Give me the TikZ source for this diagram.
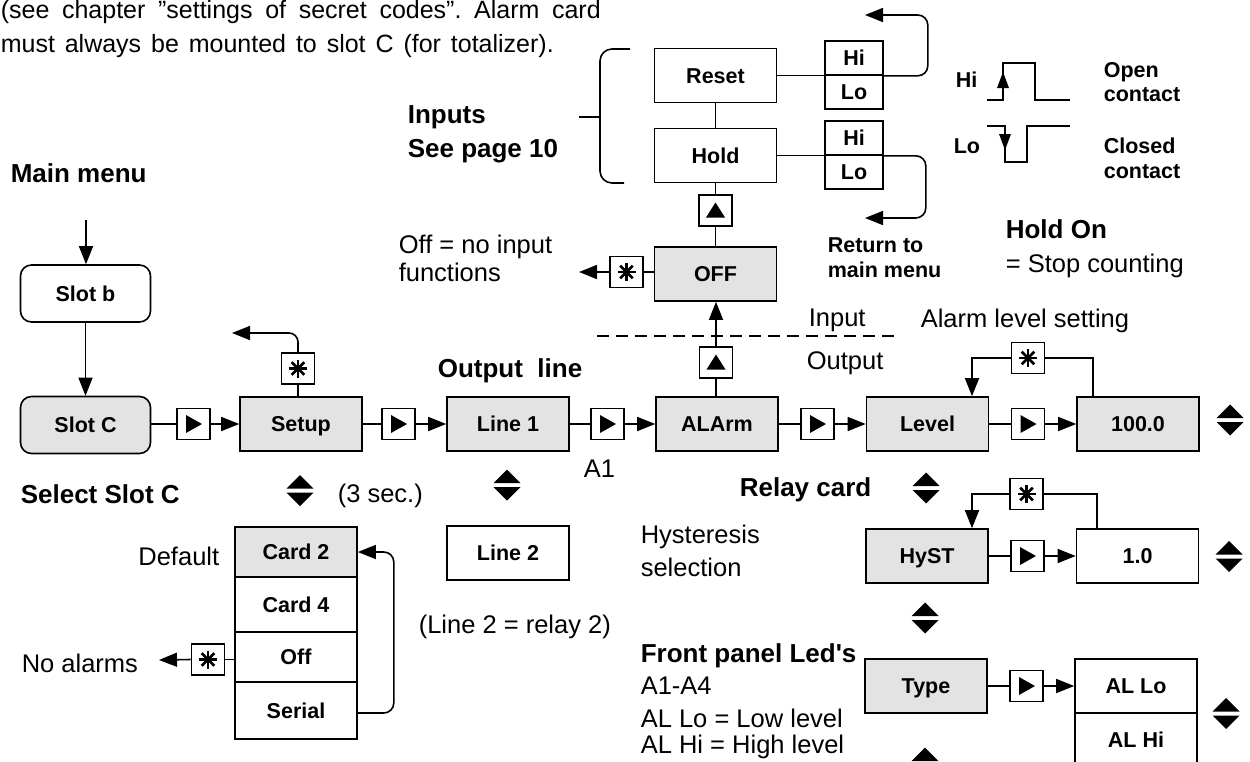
\documentclass[tikz,border=0pt]{standalone}
\usepackage{fontspec}
\setmainfont{Liberation Sans}
\usetikzlibrary{arrows.meta,calc}
\definecolor{boxgray}{RGB}{227,227,227}
\newcommand{\ntxt}{\fontsize{25.5}{30}\selectfont}
\newcommand{\htxt}{\bfseries\fontsize{26}{30}\selectfont}
\newcommand{\btxt}{\bfseries\fontsize{21.5}{25}\selectfont}
\tikzset{
  box/.style={draw, minimum width=122pt, minimum height=54pt, inner sep=0pt, font=\btxt, text height=15.4pt, text depth=0pt},
  gbox/.style={box, fill=boxgray},
  rbox/.style={box, rounded corners=11pt, minimum width=130pt, minimum height=57pt},
  hl/.style={draw, minimum width=58pt, minimum height=34pt, inner sep=0pt, font=\btxt, text height=15.4pt, text depth=0pt},
  keyb/.style={draw, fill=white, minimum width=33pt, minimum height=31pt, inner sep=0pt},
  playkey/.style={keyb, path picture={\fill[black] ($(path picture bounding box.center)+(-7.5pt,9pt)$) -- ++(0pt,-18pt) -- ++(16pt,9pt) -- cycle;}},
  upkey/.style={keyb, path picture={\fill[black] ($(path picture bounding box.center)+(-9.5pt,-7pt)$) -- ++(19pt,0pt) -- ++(-9.5pt,15pt) -- cycle;}},
  starkey/.style={keyb, path picture={\foreach \a in {0,45,90,135}{\draw[black, line width=2.6pt] ($(path picture bounding box.center)+(\a:9pt)$) -- ($(path picture bounding box.center)+(\a+180:9pt)$);}}},
  arr/.style={-{Triangle[length=18pt,width=14pt]}},
  lbl/.style={anchor=base west, inner sep=0pt, font=\ntxt},
  hlbl/.style={anchor=base west, inner sep=0pt, font=\htxt},
  slbl/.style={anchor=base west, inner sep=0pt, font=\btxt},
  updown/.pic={\fill (-13.5pt,2pt) -- (13.5pt,2pt) -- (0pt,15.5pt) -- cycle;
               \fill (-13.5pt,-2pt) -- (13.5pt,-2pt) -- (0pt,-15.5pt) -- cycle;}
}
\frenchspacing
\begin{document}
\begin{tikzpicture}[x=1pt, y=-1pt, line width=1.6pt]
\useasboundingbox (0,0) rectangle (1250,761);
\fill[white] (0,0) rectangle (1250,761);
\clip (0,0) rectangle (1250,761);

% top text
\node[lbl, font=\fontsize{25}{30}\selectfont] (t1) at (0,18) {\hbox to 600pt{(see chapter ”settings of secret codes”. Alarm card}};
\node[lbl, font=\fontsize{25}{30}\selectfont] (t2) at (0,52) {\hbox to 553pt{must always be mounted to slot C (for totalizer).}};

% main menu column
\node[hlbl] (mm) at (10,182) {Main menu};
\coordinate (mmtop) at (86,220);
\node[rbox] (slotb) at (85.5,293.5) {Slot b};
\node[rbox, fill=boxgray] (slotc) at (85.5,425) {Slot C};
\draw[arr] (mmtop) -- (mmtop |- slotb.north);
\draw[arr] (slotb) -- (slotc);

% main row
\node[playkey] (k0) at (193.5,424) {};
\node[gbox] (setup) at (301,424) {Setup};
\node[playkey] (k1) at (398.5,424) {};
\node[gbox] (line1) at (508,424) {Line 1};
\node[playkey] (k2) at (607.5,424) {};
\node[gbox] (alarm) at (717,424) {ALArm};
\node[playkey] (k3) at (817.5,424) {};
\node[gbox] (level) at (927.5,424) {Level};
\node[playkey] (k4) at (1028,424) {};
\node[gbox] (v100) at (1138,424) {100.0};
\draw (slotc.east |- k0) -- (k0.west);
\draw[arr] (k0.east) -- (setup.west);
\draw (setup.east) -- (k1.west);
\draw[arr] (k1.east) -- (line1.west);
\draw (line1.east) -- (k2.west);
\draw[arr] (k2.east) -- (alarm.west);
\draw (alarm.east) -- (k3.west);
\draw[arr] (k3.east) -- (level.west);
\draw (level.east) -- (k4.west);
\draw[arr] (k4.east) -- (v100.west);
\pic at (1230,420) {updown};

% setup escape
\node[starkey] (s1) at (298,368.5) {};
\coordinate (s1end) at (232,333);
\draw (s1.south) -- (s1.south |- setup.north);
\draw[arr, rounded corners=9pt] (s1.north) |- (s1end);

% alarm -> inputs
\node[upkey] (u1) at (716,362.5) {};
\node[gbox] (off) at (715.5,274) {OFF};
\draw (alarm.north -| u1) -- (u1.south);
\draw[arr] (u1.north) -- (u1.north |- off.south);
\node[starkey] (s2) at (626.5,272) {};
\coordinate (s2end) at (579,272);
\draw (off.west |- s2) -- (s2.east);
\draw[arr] (s2.west) -- (s2end);
\node[upkey] (u2) at (715.5,210.5) {};
\node[box] (hold) at (715.5,155.5) {Hold};
\node[box] (reset) at (715.5,75.5) {Reset};
\draw (off.north) -- (u2.south);
\draw (u2.north) -- (hold.south);
\draw (reset.south) -- (hold.north);

% Hi/Lo
\node[hl] (rhi) at (854,58) {Hi};
\node[hl] (rlo) at (854,92) {Lo};
\node[hl] (hhi) at (854,138) {Hi};
\node[hl] (hlo) at (854,172) {Lo};
\draw (reset.east) -- (reset.east -| rhi.west);
\draw (hold.east) -- (hold.east -| hhi.west);
\coordinate (rret) at (865,15);
\coordinate (hret) at (865,218);
\draw[arr, rounded corners=10pt] (rhi.south east) -- ++(44,0) |- (rret);
\draw[arr, rounded corners=10pt] (hhi.south east) -- ++(42,0) |- (hret);

% brace
\draw[rounded corners=12pt] (630,49) -- (600,49) -- (600,183) -- (624,183);
\draw (600,117) -- (579,117);

% dashed separator
\draw[dash pattern=on 12pt off 7pt, line width=1.2pt] (597,336) -- (895,336);

% signal diagrams
\draw (987,100) -- (1003,100) -- (1003,63) -- (1035,63) -- (1035,100) -- (1070,100);
\fill (997,88) -- (1009,88) -- (1003,72) -- cycle;
\draw (987,126) -- (1005,126) -- (1005,162) -- (1027,162) -- (1027,126) -- (1070,126);
\fill (999,134) -- (1011,134) -- (1005,150) -- cycle;

% level loop
\node[starkey] (s3) at (1028,358) {};
\draw ([xshift=-45pt]v100.north) |- (s3.east);
\draw[arr] (s3.west) -| ([xshift=44.5pt]level.north);

% hysteresis row
\node[gbox] (hyst) at (927,556) {HyST};
\node[playkey] (k5) at (1027.5,556) {};
\node[box] (v10) at (1137.5,556) {1.0};
\draw (hyst.east) -- (k5.west);
\draw[arr] (k5.east) -- (v10.west);
\node[starkey] (s4) at (1026.5,494) {};
\draw ([xshift=-40.5pt]v10.north) |- (s4.east);
\draw[arr] (s4.west) -| ([xshift=45pt]hyst.north);
\pic at (1229,556.5) {updown};
\pic at (926,488) {updown};
\pic at (925,618) {updown};

% type row
\node[gbox] (type) at (926,686) {Type};
\node[playkey] (k6) at (1026.5,686) {};
\node[box] (allo) at (1136,686) {AL Lo};
\node[box] (alhi) at (1136,740) {AL Hi};
\draw (type.east) -- (k6.west);
\draw[arr] (k6.east) -- (allo.west);
\pic at (1226,713.5) {updown};
\pic at (925,763) {updown};

% card stack
\node[box, fill=boxgray, minimum height=50pt] (c2) at (296,552) {Card 2};
\node[box, minimum height=55pt] (c4) at (296,604.5) {Card 4};
\node[box, minimum height=50pt] (coff) at (296,657) {Off};
\node[box, minimum height=57pt] (cser) at (296,710.5) {Serial};
\draw[arr, rounded corners=10pt] ([yshift=-2.5pt]cser.east) -- ++(36,0) |- (c2.east);
\node[starkey] (s5) at (208,659.5) {};
\coordinate (s5end) at (159,660);
\draw (coff.west |- s5) -- (s5.east);
\draw[arr] (s5.west) -- (s5end);
\pic at (300,490.5) {updown};

% line 2
\node[box] (line2) at (508,553) {Line 2};
\pic at (507,485) {updown};

% labels
\node[hlbl] (inp1) at (407,123) {Inputs};
\node[hlbl] (inp2) at (407,157) {See page 10};
\node[lbl] (offt1) at (398,253) {Off = no input};
\node[lbl] (offt2) at (398,281) {functions};
\node[hlbl] (outl) at (437,377) {Output\ \ line};
\node[lbl] (inl) at (808,326) {Input};
\node[lbl] (outpl) at (806,369) {Output};
\node[slbl] (ret1) at (827,252) {Return to};
\node[slbl] (ret2) at (827,277) {main menu};
\node[hlbl] (hon) at (1005,238) {Hold On};
\node[lbl] (hon2) at (1005,272) {= Stop counting};
\node[lbl] (als) at (920,327) {Alarm level setting};
\node[slbl] (op1) at (1103,77) {Open};
\node[slbl] (op2) at (1103,101) {contact};
\node[slbl] (cl1) at (1103,153) {Closed};
\node[slbl] (cl2) at (1103,178) {contact};
\node[slbl] (hil) at (955,87) {Hi};
\node[slbl] (lol) at (953,153) {Lo};
\node[hlbl] (sel) at (20,503) {Select Slot C};
\node[lbl] (sec) at (337,502) {(3 sec.)};
\node[lbl, anchor=base east] (def) at (220,565) {Default};
\node[lbl] (noal) at (21,672) {No alarms};
\node[lbl] (a1) at (583,477) {A1};
\node[hlbl] (relay) at (739,496) {Relay card};
\node[lbl] (hy1) at (640,543) {Hysteresis};
\node[lbl] (hy2) at (640,576) {selection};
\node[lbl] (l2r) at (418,633) {(Line 2 = relay 2)};
\node[hlbl] (fp) at (640,662) {Front panel Led\textquotesingle s};
\node[lbl] (fp1) at (640,694) {A1-A4};
\node[lbl] (fp2) at (640,727) {AL Lo = Low level};
\node[lbl] (fp3) at (640,753) {AL Hi = High level};
\end{tikzpicture}
\end{document}
